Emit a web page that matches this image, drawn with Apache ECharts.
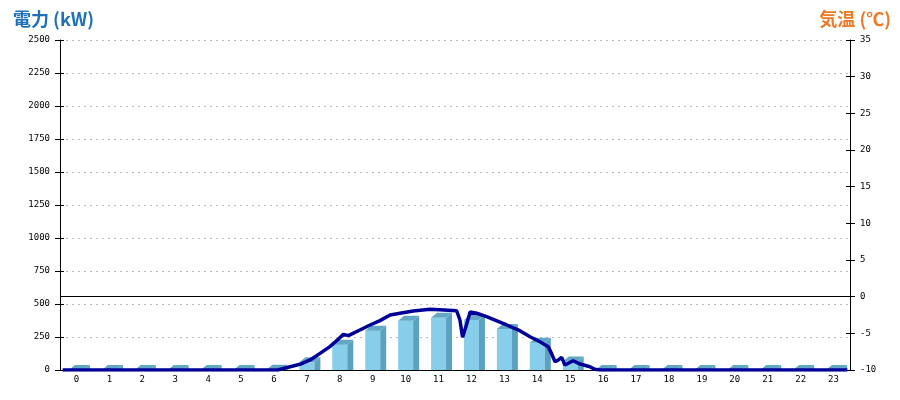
<!DOCTYPE html>
<html><head><meta charset="utf-8">
<script src="https://cdn.jsdelivr.net/npm/echarts@6/dist/echarts.min.js"></script>
<style>html,body{margin:0;padding:0;background:#fff}#c{width:900px;height:400px}</style>
</head><body><div id="c"></div>
<script>
// Hour categories
const hours = ['0','1','2','3','4','5','6','7','8','9','10','11','12','13','14','15','16','17','18','19','20','21','22','23'];
// Hourly power (kW) bars
const powerKW = [0,0,0,0,0,0,2,58,192,298,373,396,379,311,207,65,0,0,0,0,0,0,0,0];
// Fine-resolution power line: time (hour position) and kW
const lineTime = [-0.42,6.12,6.49,6.79,7.10,7.40,7.70,7.95,8.11,8.26,8.61,8.92,9.22,9.53,9.83,10.23,10.74,11.04,11.55,11.65,11.73,11.83,11.96,12.16,12.46,12.66,13.07,13.47,13.78,14.08,14.33,14.43,14.54,14.64,14.74,14.84,14.94,15.09,15.30,15.60,15.75,15.90,23.42];
const lineKW   = [0,0,25,43,76,126,177,233,270,260,303,341,374,417,430,447,460,457,449,379,248,328,439,430,404,384,341,298,252,214,177,126,63,76,96,38,51,70,45,25,5,0,0];
// Axis tick labels
const leftMin = 0, leftMax = 2500, leftStep = 250;
const rightMin = -10, rightMax = 35, rightStep = 5;
const titleLeft = '電力 (kW)';
const titleRight = '気温 (℃)';

const linePts = lineTime.map((t,i)=>[t,lineKW[i]]);
const lblFont = {fontFamily:'DejaVu Sans Mono', fontSize:9, color:'#000'};
const plain = v => String(v);

const chart = echarts.init(document.getElementById('c'));
chart.setOption({
  animation:false,
  backgroundColor:'#fff',
  title:[
    {text:titleLeft,left:8,top:5,textStyle:{fontFamily:'Noto Sans CJK JP',fontWeight:'bold',fontSize:18,color:'#1f70b8'}},
    {text:titleRight,right:4,top:5,textStyle:{fontFamily:'Noto Sans CJK JP',fontWeight:'bold',fontSize:18,color:'#ec7a25'}}
  ],
  grid:{left:60,right:50,top:40,bottom:30,containLabel:false},
  xAxis:[
    {type:'category',data:hours,boundaryGap:true,
     axisLine:{onZero:false,lineStyle:{color:'#000',width:1}},axisTick:{show:false},
     axisLabel:Object.assign({margin:5},lblFont),splitLine:{show:false}},
    {type:'value',min:-0.5,max:23.5,show:false,axisLine:{onZero:false}}
  ],
  yAxis:[
    {type:'value',min:leftMin,max:leftMax,interval:leftStep,position:'left',offset:0,
     axisLine:{show:true,onZero:false,lineStyle:{color:'#000'}},
     axisTick:{show:true,length:5,lineStyle:{color:'#000'}},
     axisLabel:Object.assign({margin:10,formatter:plain},lblFont),
     splitLine:{show:true,lineStyle:{color:'#bbb',type:[2,4]}}},
    {type:'value',min:rightMin,max:rightMax,interval:rightStep,position:'right',offset:0,
     axisLine:{show:true,onZero:false,lineStyle:{color:'#000'}},
     axisTick:{show:true,length:5,lineStyle:{color:'#000'}},
     axisLabel:Object.assign({margin:10,formatter:plain},lblFont),
     splitLine:{show:false}},
    {type:'value',min:leftMin,max:leftMax,interval:leftStep,position:'left',offset:0,
     axisLine:{show:false,onZero:false},axisTick:{show:true,inside:true,length:4,lineStyle:{color:'#000'}},
     axisLabel:{show:false},splitLine:{show:false}},
    {type:'value',min:rightMin,max:rightMax,interval:rightStep,position:'right',offset:0,
     axisLine:{show:false,onZero:false},axisTick:{show:true,inside:true,length:4,lineStyle:{color:'#000'}},
     axisLabel:{show:false},splitLine:{show:false}}
  ],
  series:[
    {type:'custom',xAxisIndex:0,yAxisIndex:0,data:powerKW.map((v,i)=>[i,v]),z:2,
     renderItem:function(params,api){
       const top = api.coord([api.value(0),api.value(1)]);
       const base = api.coord([api.value(0),0]);
       const w=15, dx=6, dy=5;
       const xl = top[0]-7.5, xr = top[0]+7.5, yt = top[1], yb = base[1];
       return {type:'group',children:[
         {type:'rect',shape:{x:xl,y:yt,width:w,height:yb-yt},style:{fill:'#87ceeb'}},
         {type:'polygon',shape:{points:[[xr,yt],[xr+dx,yt-dy],[xr+dx,yb],[xr,yb]]},style:{fill:'#5aa2bf'}},
         {type:'polygon',shape:{points:[[xl,yt],[xl+dx,yt-dy],[xr+dx,yt-dy],[xr,yt]]},style:{fill:'#62a7c4'}}
       ]};
     }},
    {type:'line',xAxisIndex:1,yAxisIndex:0,data:linePts,symbol:'none',z:5,
     lineStyle:{color:'#000099',width:3.5},showSymbol:false},
    {type:'line',xAxisIndex:0,yAxisIndex:1,data:[],z:3,
     markLine:{silent:true,symbol:'none',label:{show:false},
       lineStyle:{color:'#000',width:1,type:'solid'},data:[{yAxis:0}]}}
  ]
});
</script></body></html>
